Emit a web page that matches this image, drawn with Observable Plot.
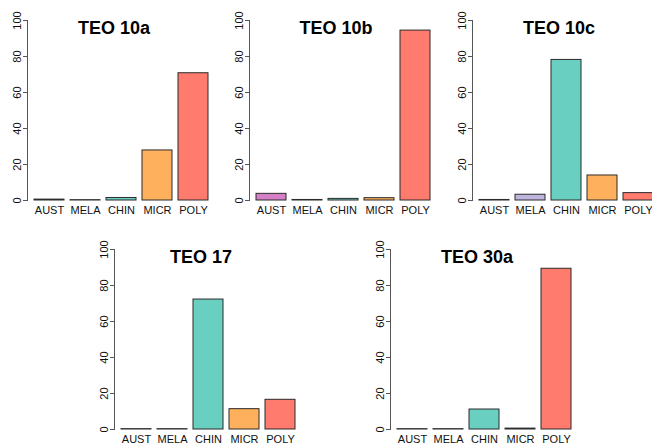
<!DOCTYPE html>
<html>
<head>
<meta charset="utf-8">
<script src="https://cdn.jsdelivr.net/npm/d3@7"></script>
<script src="https://cdn.jsdelivr.net/npm/@observablehq/plot@0.6"></script>
<style>
  html, body { margin: 0; padding: 0; background: #fff; }
  body { width: 652px; height: 445px; overflow: hidden; position: relative; font-family: "Liberation Sans", Arial, sans-serif; }
  .panel { position: absolute; width: 220px; height: 225px; }
  .panel svg { overflow: visible; max-width: none !important; }
</style>
</head>
<body>
<script>
const categories = ["AUST", "MELA", "CHIN", "MICR", "POLY"];
const colors = ["#d47fc8", "#bfb5df", "#69cfc0", "#ffb05c", "#ff7b6e"];
const titles = ["TEO 10a", "TEO 10b", "TEO 10c", "TEO 17", "TEO 30a"];
const teo10a = [0.5, 0.2, 1.4, 27.8, 70.7];
const teo10b = [3.7, 0.3, 0.9, 1.3, 94.4];
const teo10c = [0.3, 3.2, 78.1, 13.9, 4.1];
const teo17  = [0.2, 0.2, 72.2, 11.3, 16.5];
const teo30a = [0.2, 0.2, 11.1, 0.5, 89.3];
const yTicks = [0, 20, 40, 60, 80, 100];

const seriesList = [teo10a, teo10b, teo10c, teo17, teo30a];
// panel placement (page layout)
const places = [[0, 0], [222, 0], [445, 0], [87, 229], [363, 229]];

function panel(title, values, left, top) {
  const data = categories.map((c, i) => ({cat: c, value: values[i]}));
  const chart = Plot.plot({
    width: 220,
    height: 225,
    marginLeft: 27,
    marginRight: 12,
    marginTop: 20,
    marginBottom: 25,
    style: {fontFamily: "'Liberation Sans', Arial, sans-serif", fontSize: "11px", color: "#111", background: "transparent"},
    x: {domain: categories, paddingInner: 0.167, paddingOuter: 0, insetLeft: 7, label: null},
    y: {domain: [0, 100], label: null},
    color: {domain: categories, range: colors},
    marks: [
      Plot.barY(data, {x: "cat", y: "value", fill: "cat", stroke: "#2b2b2b", strokeWidth: 1}),
      Plot.frame({anchor: "left", stroke: "#555", strokeWidth: 1}),
      Plot.axisY({ticks: yTicks, tickSize: 4, tickPadding: 3, tickRotate: -90, stroke: "#555", label: null}),
      Plot.axisX({tickSize: 0, tickPadding: 6, label: null}),
      Plot.text([title], {frameAnchor: "top", text: d => d, dy: 1, dx: -4, fontSize: 18, fontWeight: "bold", fill: "#000"})
    ]
  });
  const div = document.createElement("div");
  div.className = "panel";
  div.style.left = left + "px";
  div.style.top = top + "px";
  div.appendChild(chart);
  document.body.appendChild(div);
}

titles.forEach((t, i) => panel(t, seriesList[i], places[i][0], places[i][1]));
</script>
</body>
</html>
